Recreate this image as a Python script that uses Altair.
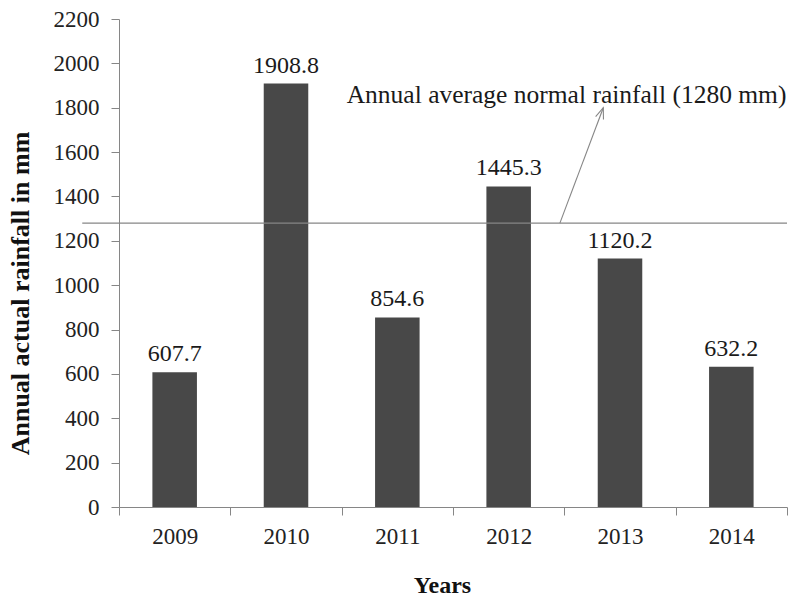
import altair as alt
import pandas as pd

# Annual rainfall per year (mm)
years = ["2009", "2010", "2011", "2012", "2013", "2014"]
rainfall = [607.7, 1908.8, 854.6, 1445.3, 1120.2, 632.2]

# Long-term annual normal
normal_rainfall = 1280
note_text = "Annual average normal  rainfall (1280 mm)"

# Annotation placement in year-index units (0..6 spans the category axis)
rule_x = [-0.33, 6.0]
arrow_x = [3.96, 4.35]
arrow_y = [normal_rainfall, 1800]
note_x = 4.02
note_y = 1821

FONT = "Liberation Serif"
BAR = "#484848"
GREY = "#868686"

bars_df = pd.DataFrame({"year": years, "rain": rainfall})

x_band = alt.X(
    "year:N",
    sort=years,
    scale=alt.Scale(paddingInner=0, paddingOuter=0),
    axis=alt.Axis(
        title="Years",
        labelAngle=0,
        labelFont=FONT,
        labelFontSize=23,
        labelPadding=10,
        labelColor="#222222",
        tickBand="extent",
        tickSize=8,
        tickColor=GREY,
        domainColor=GREY,
        titleFont=FONT,
        titleFontSize=24,
        titleFontWeight="bold",
        titleX=323,
        titleY=85,
        titleBaseline="alphabetic",
        titleColor="#111111",
    ),
)

y_scale = alt.Scale(domain=[0, 2200], nice=False)

bars = alt.Chart(bars_df).mark_bar(color=BAR, width={"band": 0.4}).encode(
    x=x_band,
    y=alt.Y(
        "rain:Q",
        scale=y_scale,
        axis=alt.Axis(
            title="Annual actual rainfall in mm",
            values=list(range(0, 2201, 200)),
            format="d",
            grid=False,
            labelFont=FONT,
            labelFontSize=23,
            labelPadding=12,
            labelColor="#222222",
            tickSize=8,
            tickColor=GREY,
            domainColor=GREY,
            titleFont=FONT,
            titleFontSize=26,
            titleFontWeight="bold",
            titleX=-99,
            titleY=274,
            titleAlign="center",
            titleBaseline="middle",
            titleColor="#111111",
        ),
    ),
)

labels = alt.Chart(bars_df).mark_text(
    font=FONT, fontSize=24, baseline="alphabetic", dy=-11, color="#1a1a1a"
).encode(
    x=alt.X("year:N", sort=years, axis=None),
    y=alt.Y("rain:Q", scale=y_scale),
    text=alt.Text("rain:Q", format=".1f"),
)

x_idx = alt.Scale(domain=[0, 6], nice=False, zero=False)

normal_df = pd.DataFrame({"x": [rule_x[0]], "x2": [rule_x[1]], "y": [normal_rainfall]})
normal_line = alt.Chart(normal_df).mark_rule(color=GREY, strokeWidth=1.2, clip=False).encode(
    x=alt.X("x:Q", scale=x_idx, axis=None),
    x2="x2:Q",
    y=alt.Y("y:Q", scale=y_scale),
)

arrow_df = pd.DataFrame({"x": [arrow_x[0]], "x2": [arrow_x[1]], "y": [arrow_y[0]], "y2": [arrow_y[1]]})
arrow_line = alt.Chart(arrow_df).mark_rule(color=GREY, strokeWidth=1.1).encode(
    x=alt.X("x:Q", scale=x_idx, axis=None),
    x2="x2:Q",
    y=alt.Y("y:Q", scale=y_scale),
    y2="y2:Q",
)

head_df = pd.DataFrame({"x": [arrow_x[1]], "y": [arrow_y[1]]})
arrow_head = alt.Chart(head_df).mark_point(
    shape="M-0.38,1L0,0L0.38,1",
    filled=False,
    stroke=GREY,
    strokeWidth=1.1,
    size=480,
    angle=20,
    opacity=1,
).encode(
    x=alt.X("x:Q", scale=x_idx, axis=None),
    y=alt.Y("y:Q", scale=y_scale),
)

note_df = pd.DataFrame({"x": [note_x], "y": [note_y], "t": [note_text]})
note = alt.Chart(note_df).mark_text(
    font=FONT, fontSize=25.5, align="center", baseline="alphabetic", color="#1a1a1a"
).encode(
    x=alt.X("x:Q", scale=x_idx, axis=None),
    y=alt.Y("y:Q", scale=y_scale),
    text="t:N",
)

chart = (
    alt.layer(bars, labels, normal_line, arrow_line, arrow_head, note)
    .resolve_scale(x="independent")
    .properties(
        width=668,
        height=488,
        autosize=alt.AutoSizeParams(type="none"),
        padding={"left": 119, "top": 19, "right": 1, "bottom": 92},
        background="white",
    )
    .configure(font=FONT)
    .configure_view(stroke=None)
)

chart.save("out.html", embed_options={"renderer": "svg", "actions": False})
